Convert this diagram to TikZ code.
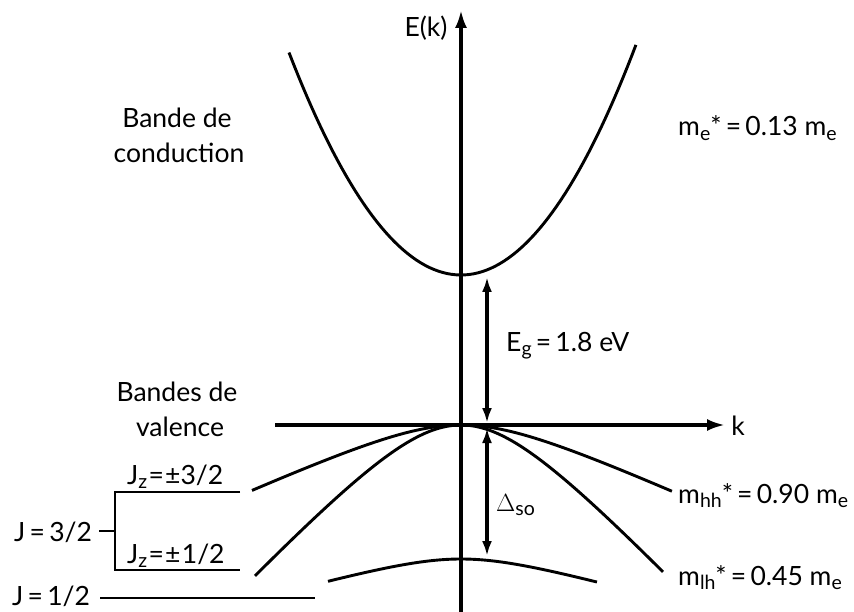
\documentclass[tikz,border=0pt]{standalone}
\usepackage{fontspec}
\setmainfont{Lato}
\usetikzlibrary{arrows.meta}
\newcommand\lowtxt[1]{\raisebox{-0.3ex}{\fontsize{19.5}{19.5}\selectfont #1}}
\newcommand\eqsgn{\hspace{0.16em}=\hspace{0.16em}}
\begin{document}
\begin{tikzpicture}[x=1pt,y=-1pt,
  lbl/.style={font=\fontsize{26.5}{26.5}\selectfont, inner sep=0pt, anchor=base west},
  axis/.style={line width=3.4pt, -{Latex[length=18pt,width=12pt]}},
  band/.style={line width=2.9pt},
  gap/.style={line width=3.2pt, {Latex[length=15pt,width=10pt]}-{Latex[length=15pt,width=10pt]}},
  level/.style={line width=2.9pt}]
\useasboundingbox (0,0) rectangle (854,612);
% axes
\coordinate (ybot) at (461,612);
\coordinate (ytop) at (461,10);
\coordinate (xl) at (275,425);
\coordinate (xr) at (725,425);
\draw[axis] (ybot) -- (ytop);
\draw[axis] (xl) -- (xr);
\node[lbl, anchor=base] (Ek) at (426,37) {E(k)};
\node[lbl, anchor=base] (k) at (738,435) {k};
% bands
\draw[band] plot[domain=-1.72:1.75, samples=80] ({461+100*\x},{275-75.2*\x*\x});
\draw[band] plot[domain=-2.09:2.11, samples=90] ({461+100*\x},{425+36.4*(sqrt(1+(\x/0.8)^2)-1)});
\draw[band] plot[domain=-2.06:2.02, samples=90] ({461+100*\x},{425+85.6*(sqrt(1+(\x/0.8)^2)-1)});
\draw[band] plot[domain=-1.33:1.36, samples=80] ({461+100*\x},{559+19.45*(sqrt(1+(\x/0.7)^2)-1)});
% gap arrows
\coordinate (cbmin) at (487,277);
\coordinate (vbtop) at (487,423);
\coordinate (vbtop2) at (487,428);
\coordinate (sotop) at (487,556);
\draw[gap] (cbmin) -- (vbtop);
\draw[gap] (vbtop2) -- (sotop);
\node[lbl] (Eg) at (506,351) {E\lowtxt{g}\eqsgn 1.8 eV};
\node[lbl] (Dso) at (496,511) {$\Delta$\lowtxt{so}};
% band labels
\node[lbl, anchor=base] (cb1) at (177,128) {Bande de};
\node[lbl, anchor=base] (cb2) at (179,163) {conduction};
\node[lbl, anchor=base] (vb1) at (177,401) {Bandes de};
\node[lbl, anchor=base] (vb2) at (180,436) {valence};
\node[lbl] (me) at (678,136) {m\lowtxt{e}*\eqsgn 0.13 m\lowtxt{e}};
\node[lbl] (mhh) at (678,503) {m\lowtxt{hh}*\eqsgn 0.90 m\lowtxt{e}};
\node[lbl] (mlh) at (678,585) {m\lowtxt{lh}*\eqsgn 0.45 m\lowtxt{e}};
% J levels
\coordinate (a1) at (115,492);
\coordinate (a2) at (240,492);
\coordinate (b1) at (115,570);
\coordinate (b2) at (240,570);
\coordinate (t1) at (99,531);
\coordinate (t2) at (115,531);
\coordinate (c1) at (100,598);
\coordinate (c2) at (315,598);
\draw[level] (a2) -- (a1) -- (b1) -- (b2);
\draw[level] (t1) -- (t2);
\draw[level] (c1) -- (c2);
\node[lbl] (jz32) at (127,484) {J\lowtxt{z}\hspace{0.05em}=\hspace{0.05em}±3/2};
\node[lbl] (jz12) at (127,563) {J\lowtxt{z}\hspace{0.05em}=\hspace{0.05em}±\hspace{0.05em}1/2};
\node[lbl] (j32) at (14,541) {J\eqsgn 3/2};
\node[lbl] (j12) at (12,605) {J\eqsgn 1/2};
\end{tikzpicture}
\end{document}
